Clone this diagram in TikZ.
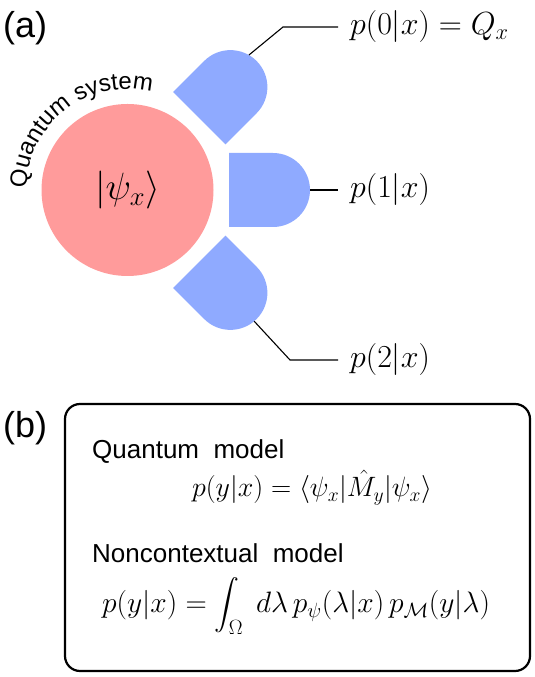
\RequirePackage{fix-cm}
\documentclass[tikz,border=0pt]{standalone}
\usepackage{amsmath}
\usepackage{fontspec}
\setmainfont{Liberation Sans}
\usetikzlibrary{positioning,decorations.text}
\definecolor{sysred}{RGB}{255,155,155}
\definecolor{detblue}{RGB}{143,170,255}

\begin{document}
\begin{tikzpicture}[
  x=1pt, y=1pt,
  panel/.style={anchor=base west, inner sep=0pt, font=\fontsize{36}{40}\selectfont},
  det/.style={fill=detblue, draw=none},
  prob/.style={anchor=west, inner ysep=0pt, inner xsep=12pt, font=\fontsize{32}{37}\selectfont},
  wire/.style={draw=black, line width=1.1pt},
  frame/.style={rectangle, rounded corners=15pt, draw=black, line width=2.2pt,
                minimum width=465pt, minimum height=267pt},
  head/.style={anchor=base west, inner sep=0pt, font=\fontsize{26}{30}\selectfont},
  eq/.style={inner sep=0pt, font=\fontsize{28}{34}\selectfont}
]
\useasboundingbox (0,0) rectangle (535,677);

% (a) system and detectors
\coordinate (C) at (127.5,487);
\node[circle, fill=sysred, minimum size=172pt, inner sep=0pt,
      font=\fontsize{38}{44}\selectfont] (sys) at (C) {$|\psi_x\rangle$};

\foreach \ang/\tip/\nm in {45/15/0, 0/0/1, -45/-5/2}{
  \begin{scope}[shift={(C)}, rotate=\ang]
    \fill[det] (101.5,-37) -- (145.5,-37) arc[start angle=-90, end angle=90, radius=37]
      -- (101.5,37) -- cycle;
    \coordinate (d\nm) at ([shift={(\tip:37)}]145.5,0);
  \end{scope}
}

\path[decorate, decoration={text along path,
      text={|\fontsize{24}{28}\selectfont|Quantum system}}]
  ([shift={(179:101)}]C) arc[start angle=179, end angle=60, radius=101];

\coordinate (k0) at (283,650);
\coordinate (k2) at (290,317);
\node[prob] (l0) at (338,650) {$p(0|x) = Q_x$};
\node[prob] (l1) at (338,487) {$p(1|x)$};
\node[prob] (l2) at (338,317) {$p(2|x)$};
\draw[wire] (d0) -- (k0) -- (l0.west);
\draw[wire] (d1) -- (l1.west);
\draw[wire] (d2) -- (k2) -- (l2.west);

\node[panel] (pa) at (3,639) {(a)};
\node[panel] (pb) at (3,239) {(b)};

% (b) the two models
\node[frame] (box) at (297.5,139.5) {};
\node[head] (qm) at (92,218) {Quantum\ \ model};
\node[eq, anchor=base] (qeq) at (312,180) {$p(y|x) = \langle\psi_x|\hat{M}_y|\psi_x\rangle$};
\node[head] (nm) at (92,114) {Noncontextual\ \ model};
\node[eq, anchor=base west, font=\fontsize{29.5}{34}\selectfont] (neq) at (102,64)
  {$\displaystyle p(y|x) = \int_{\Omega}\; d\lambda\, p_{\psi}(\lambda|x)\, p_{\mathcal{M}}(y|\lambda)$};
\end{tikzpicture}
\end{document}
